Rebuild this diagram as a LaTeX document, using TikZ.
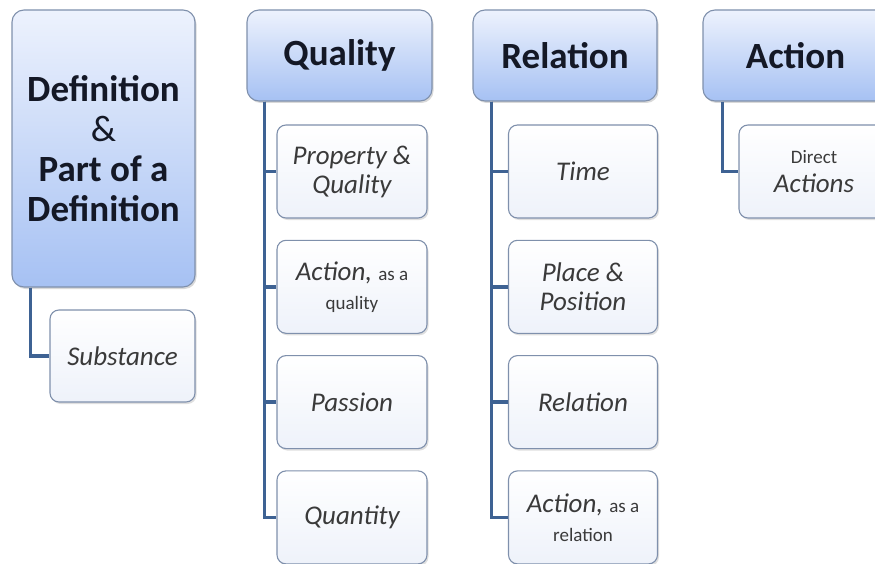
\documentclass[tikz,border=0pt]{standalone}
\usepackage{fontspec}
\setmainfont{Carlito}
\usetikzlibrary{
	positioning		% relative placement
	, shadows		% soft shadows under the boxes
	, calc
}

\definecolor{hdrtop}{HTML}{EDF2FD}
\definecolor{hdrbot}{HTML}{A6C1F3}
\definecolor{itembot}{HTML}{EEF2FA}
\definecolor{boxedge}{HTML}{7F90AC}
\definecolor{trunkblue}{HTML}{3E6293}
\definecolor{hdrtext}{HTML}{141826}
\definecolor{itemtext}{HTML}{3A3A3A}

% smaller upright words inside the italic boxes
\newcommand{\plainword}[1]{{\fontsize{19}{22}\selectfont\upshape #1}}

\begin{document}
\begin{tikzpicture}[
		x=1pt, y=-1pt
		, header/.style={
			draw=boxedge, line width=1.1pt, rounded corners=12pt,
			top color=hdrtop, bottom color=hdrbot,
			minimum width=185pt, minimum height=91pt,
			align=center, text=hdrtext,
			font=\fontsize{37}{40}\selectfont\bfseries,
			drop shadow={opacity=0.3, shadow xshift=1.5pt, shadow yshift=-2pt}
		}
		, item/.style={
			draw=boxedge, line width=1.1pt, rounded corners=9pt,
			top color=white, bottom color=itembot,
			minimum width=150pt, minimum height=93pt,
			align=center, text=itemtext,
			font=\fontsize{27}{29}\selectfont\itshape,
			drop shadow={opacity=0.25, shadow xshift=1.5pt, shadow yshift=-2pt}
		}
		, trunk/.style={draw=trunkblue, line width=3.8pt}
	]
	\useasboundingbox (0,0) rectangle (875,564);
	\clip (0,0) rectangle (875,564);

	% Draw the four column headers
	\node [header, minimum width=183pt, minimum height=277pt] (defn) at (103.5,148.5)
		{Definition\\{\mdseries\&}\\Part of a\\Definition};
	\node [header] (quality) at (339.5,55.5) {Quality};
	\node [header, minimum width=184pt] (relation) at (565,55.5) {Relation};
	\node [header] (action) at (795.5,55.5) {Action};

	% Trunk start points just under each header
	\coordinate (defntrunk) at ([xshift=19pt]defn.south west);
	\coordinate (qualitytrunk) at ([xshift=18pt]quality.south west);
	\coordinate (relationtrunk) at ([xshift=19pt]relation.south west);
	\coordinate (actiontrunk) at ([xshift=20pt]action.south west);

	% Definition has a single entry
	\node [item, minimum width=145pt, minimum height=92pt] (substance) at (122.5,356) {Substance};
	\draw [trunk] (defntrunk) |- (substance.west);

	% Entries under Quality
	\foreach [count=\i] \entry in {
		{Property \&\\Quality},
		{Action, \plainword{as a}\\\plainword{quality}},
		{Passion},
		{Quantity}} {
		\node [item] (quality\i) at (352,{171.5+115.3*(\i-1)}) {\entry};
		\draw [trunk] (qualitytrunk) |- (quality\i.west);
	};

	% Entries under Relation
	\foreach [count=\i] \entry in {
		{Time},
		{Place \&\\Position},
		{Relation},
		{Action, \plainword{as a}\\\plainword{relation}}} {
		\node [item, minimum width=149pt] (relation\i) at (583,{171.5+115.3*(\i-1)}) {\entry};
		\draw [trunk] (relationtrunk) |- (relation\i.west);
	};

	% Action has a single entry
	\node [item] (direct) at (814,171.5) {\plainword{Direct}\\Actions};
	\draw [trunk] (actiontrunk) |- (direct.west);
\end{tikzpicture}
\end{document}
